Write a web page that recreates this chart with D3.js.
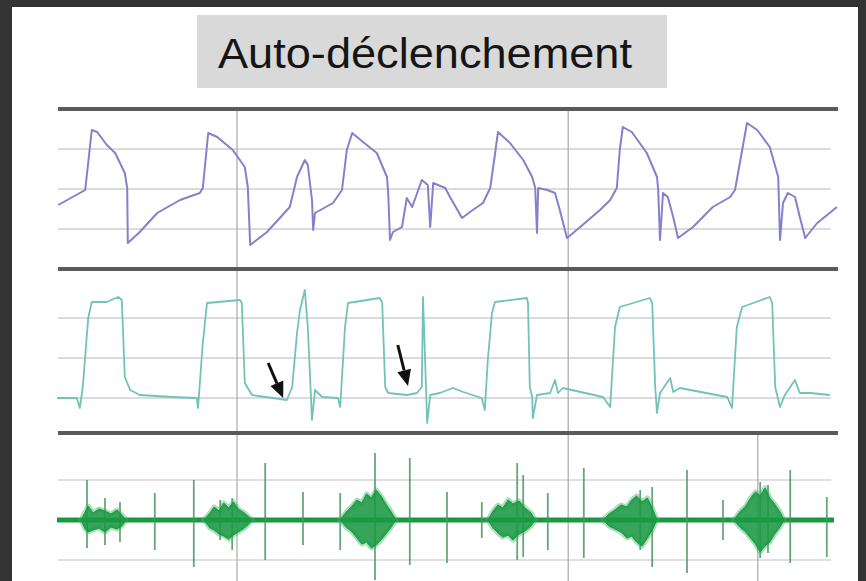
<!DOCTYPE html>
<html lang="fr">
<head>
<meta charset="UTF-8">
<title>Auto-déclenchement</title>
<script src="https://cdn.jsdelivr.net/npm/d3@7"></script>
<style>
  html, body { margin: 0; padding: 0; background: #333; }
  svg { display: block; }
</style>
</head>
<body>
<script>
// time (s) / pressure (cmH2O)
const pressure = [
  [0.02,16],[0.47,19.75],[0.58,34.75],[0.67,34.25],[0.83,31],[0.97,29],[1.13,24],[1.17,20.25],[1.18,6.5],
  [1.38,9.25],[1.67,14],[2.05,17.25],[2.38,19],[2.43,20.25],[2.52,34],[2.67,33],[2.93,29.75],[3.13,25.5],
  [3.18,20.5],[3.22,6],[3.5,9.25],[3.88,15.5],[4.0,23],[4.13,27.25],[4.18,26],[4.25,17.25],[4.27,9.75],
  [4.3,14],[4.6,16.5],[4.75,19.75],[4.83,29.75],[4.92,34],[5.1,31.75],[5.33,29],[5.5,23],[5.52,19],
  [5.55,7.25],[5.6,9.25],[5.75,10.5],[5.83,17.75],[5.92,15.5],[6.08,22.25],[6.18,21],[6.22,10.5],
  [6.27,21.5],[6.47,20.25],[6.55,18],[6.75,12.75],[6.93,14.75],[7.1,16.5],[7.22,20.25],[7.27,25.5],
  [7.35,34.25],[7.55,31.5],[7.77,27.25],[7.92,23],[7.97,20.25],[8.0,9],[8.02,20.25],[8.17,19.75],
  [8.3,19],[8.38,14.75],[8.5,7.75],[8.72,10.5],[9.05,14.75],[9.22,17.25],[9.33,20.25],[9.38,29.75],
  [9.43,35.5],[9.58,34.25],[9.83,29],[10.0,23],[10.02,19.75],[10.05,7.25],[10.1,19],[10.18,18],
  [10.27,13],[10.35,7.75],[10.6,10.5],[10.93,15.5],[11.22,18],[11.3,19.75],[11.42,29.75],[11.5,36.5],
  [11.67,34.75],[11.88,30.5],[12.02,23],[12.05,7.25],[12.1,16.5],[12.18,19],[12.3,18],[12.38,13],
  [12.47,7.75],[12.67,11.5],[13.0,15.5]
];

// time (s) / flow (L/min)
const flow = [
  [0,0],[0.33,0],[0.38,-10],[0.43,11],[0.52,80],[0.58,96],[0.83,96],[1.02,101],[1.08,98],[1.13,21],
  [1.22,8],[1.38,3],[1.93,1],[2.33,0],[2.35,-10],[2.43,55],[2.5,95],[3.05,98],[3.08,95],[3.13,15],
  [3.25,3],[3.6,0],[3.83,-2],[3.92,11],[4.0,65],[4.05,88],[4.13,108],[4.18,71],[4.25,-22],[4.3,8],
  [4.42,1],[4.68,0],[4.72,-9],[4.8,71],[4.85,95],[5.38,100],[5.42,95],[5.47,11],[5.52,5],[5.83,3],
  [6.0,5],[6.08,11],[6.1,101],[6.17,-25],[6.22,3],[6.38,5],[6.6,10],[6.77,6],[7.08,0],[7.13,-12],
  [7.18,38],[7.25,85],[7.3,96],[7.83,100],[7.85,95],[7.88,11],[7.92,1],[7.93,-20],[8.0,3],[8.22,5],
  [8.3,18],[8.35,5],[8.43,10],[9.1,1],[9.22,-9],[9.3,71],[9.38,91],[9.88,100],[9.92,95],[9.97,11],
  [10.0,-15],[10.05,5],[10.22,20],[10.27,6],[10.38,10],[11.17,1],[11.25,-10],[11.33,71],[11.42,91],
  [11.88,101],[11.92,95],[11.97,11],[12.05,-9],[12.13,3],[12.3,18],[12.38,5],[12.55,5],[12.88,3]
];

// EMG spikes: time, top, bottom (µV)
const emgSpikes = [
  [0.5,40,-28],[0.8,22,-25],[1.05,18,-22],[1.63,27,-30],[2.28,40,-47],[2.72,20,-20],[2.92,22,-30],
  [3.47,57,-40],[4.1,28,-25],[4.72,27,-30],[5.3,67,-60],[5.88,62,-45],[6.5,28,-43],[7.08,18,-18],
  [7.67,57,-40],[7.77,45,-37],[8.18,27,-30],[8.78,52,-38],[9.72,30,-30],[9.92,33,-47],[10.5,50,-53],
  [11.1,20,-20],[11.72,38,-38],[11.85,35,-33],[12.22,50,-43],[12.83,23,-37]
];

// EMG bursts: envelope points time, upper, lower
const burstA = [[0.40,0,0],[0.47,8,-9],[0.52,14,-12],[0.6,7,-10],[0.7,11,-8],[0.8,9,-12],[0.9,6,-7],[1.0,10,-9],[1.08,5,-6],[1.15,0,0]];
const burstB = [[2.45,0,0],[2.55,7,-8],[2.62,13,-10],[2.7,9,-14],[2.78,17,-16],[2.86,12,-19],[2.94,18,-15],[3.02,11,-12],[3.1,8,-9],[3.18,4,-5],[3.25,0,0]];
const burstC = [[4.72,0,0],[4.82,8,-7],[4.92,14,-12],[5.0,20,-18],[5.08,17,-24],[5.16,26,-22],[5.24,22,-28],[5.32,30,-25],[5.4,24,-20],[5.48,16,-14],[5.56,9,-8],[5.65,0,0]];
const burstD = [[7.18,0,0],[7.27,9,-8],[7.35,15,-13],[7.43,12,-17],[7.52,20,-15],[7.6,16,-20],[7.7,19,-14],[7.8,12,-11],[7.9,7,-6],[7.97,0,0]];
const burstE = [[9.1,0,0],[9.2,6,-6],[9.3,10,-9],[9.4,15,-12],[9.5,13,-18],[9.58,20,-16],[9.66,24,-22],[9.75,18,-26],[9.84,22,-18],[9.92,12,-10],[10.0,0,0]];
const burstF = [[11.28,0,0],[11.38,8,-7],[11.48,14,-12],[11.56,22,-18],[11.64,28,-24],[11.72,24,-32],[11.8,32,-26],[11.88,22,-22],[11.96,16,-14],[12.05,8,-7],[12.12,0,0]];
const bursts = [burstA, burstB, burstC, burstD, burstE, burstF];

// arrows in the flow panel: tail time, tail flow, tip time, tip flow
const arrows = [[3.52,35,3.77,0],[5.68,53,5.85,12]];

const pGrid = [10, 20, 30];
const fGrid = [0, 40, 80];
const eGrid = [-40, 0, 40];
const markerTimes = [3.0, 8.52];
const title = "Auto-déclenchement";

const W = 866, H = 581;
const svg = d3.select("body").append("svg").attr("width", W).attr("height", H);

// white sheet
svg.append("rect").attr("x", 12).attr("y", 7).attr("width", 846).attr("height", H - 7).attr("fill", "#fff");

// title box
svg.append("rect").attr("x", 197).attr("y", 15).attr("width", 470).attr("height", 73).attr("fill", "#d9d9d9");
svg.append("text")
  .attr("x", 425).attr("y", 68)
  .attr("text-anchor", "middle")
  .attr("font-family", "Liberation Sans Narrow, Liberation Sans, Arial, sans-serif")
  .attr("font-size", 43)
  .attr("textLength", 414)
  .attr("lengthAdjust", "spacingAndGlyphs")
  .attr("fill", "#151515")
  .text(title);

let x = d3.scaleLinear().domain([0, 13]).range([57, 837]);
let yP = d3.scaleLinear().domain([0, 40]).range([269, 109]);
let yF = d3.scaleLinear().domain([-35, 130]).range([433, 268]);
let yE = d3.scaleLinear().domain([-61, 87]).range([581, 433]);

// grid lines
function hGrid(scale, vals, color) {
  svg.append("g").selectAll("line").data(vals).join("line")
    .attr("x1", 58).attr("x2", 831)
    .attr("y1", d => scale(d)).attr("y2", d => scale(d))
    .attr("stroke", color).attr("stroke-width", 1.6);
}
hGrid(yP, pGrid, "#cfcfcf");
hGrid(yF, fGrid, "#cfcfcf");
hGrid(yE, eGrid, "#d6d6d6");

// vertical time markers
svg.append("g").selectAll("line").data(markerTimes).join("line")
  .attr("x1", d => x(d)).attr("x2", d => x(d))
  .attr("y1", yP(40)).attr("y2", H)
  .attr("stroke", "#a8a8a8").attr("stroke-width", 1.2);
svg.append("line")
  .attr("x1", x(11.68)).attr("x2", x(11.68))
  .attr("y1", yE(87)).attr("y2", H)
  .attr("stroke", "#a8a8a8").attr("stroke-width", 1.2);

// thick separators
let seps = [yP(40), yP(0), yF(-35)];
svg.append("g").selectAll("line").data(seps).join("line")
  .attr("x1", 58).attr("x2", 838)
  .attr("y1", d => d).attr("y2", d => d)
  .attr("stroke", "#5a5a5a").attr("stroke-width", 4);

// pressure
svg.append("path").datum(pressure)
  .attr("d", d3.line().x(d => x(d[0])).y(d => yP(d[1])))
  .attr("fill", "none").attr("stroke", "#8580cc").attr("stroke-width", 2)
  .attr("stroke-linejoin", "round");

// flow
svg.append("path").datum(flow)
  .attr("d", d3.line().x(d => x(d[0])).y(d => yF(d[1])))
  .attr("fill", "none").attr("stroke", "#72c2b8").attr("stroke-width", 1.8)
  .attr("stroke-linejoin", "round");

// arrows
arrows.forEach(a => {
  let x1 = x(a[0]), y1 = yF(a[1]), x2 = x(a[2]), y2 = yF(a[3]);
  let ang = Math.atan2(y2 - y1, x2 - x1);
  let L = 16, hw = 7;
  let bx = x2 - L * Math.cos(ang), by = y2 - L * Math.sin(ang);
  svg.append("line").attr("x1", x1).attr("y1", y1).attr("x2", bx).attr("y2", by)
    .attr("stroke", "#111").attr("stroke-width", 3);
  let px = -Math.sin(ang) * hw, py = Math.cos(ang) * hw;
  svg.append("path")
    .attr("d", `M${x2},${y2}L${bx + px},${by + py}L${bx - px},${by - py}Z`)
    .attr("fill", "#111");
});

// EMG baseline
svg.append("line")
  .attr("x1", x(0)).attr("x2", x(12.95))
  .attr("y1", yE(0)).attr("y2", yE(0))
  .attr("stroke", "#1a9843").attr("stroke-width", 5);

// EMG spikes (drawn under the bursts)
svg.append("g").selectAll("line").data(emgSpikes).join("line")
  .attr("x1", d => x(d[0])).attr("x2", d => x(d[0]))
  .attr("y1", d => yE(d[1])).attr("y2", d => yE(d[2]))
  .attr("stroke", "#4f9460").attr("stroke-opacity", 0.85).attr("stroke-width", 1.8);

// EMG bursts: light halo then dense core
let burstArea = d3.area()
  .x(d => x(d[0])).y0(d => yE(d[2])).y1(d => yE(d[1]));
svg.append("g").selectAll("path").data(bursts).join("path")
  .attr("d", burstArea)
  .attr("fill", "none")
  .attr("stroke", "#3fb563").attr("stroke-opacity", 0.45).attr("stroke-width", 5)
  .attr("stroke-linejoin", "round");
svg.append("g").selectAll("path").data(bursts).join("path")
  .attr("d", burstArea)
  .attr("fill", "#1a9843").attr("fill-opacity", 0.88)
  .attr("stroke", "#1a9843").attr("stroke-width", 1);
</script>
</body>
</html>
